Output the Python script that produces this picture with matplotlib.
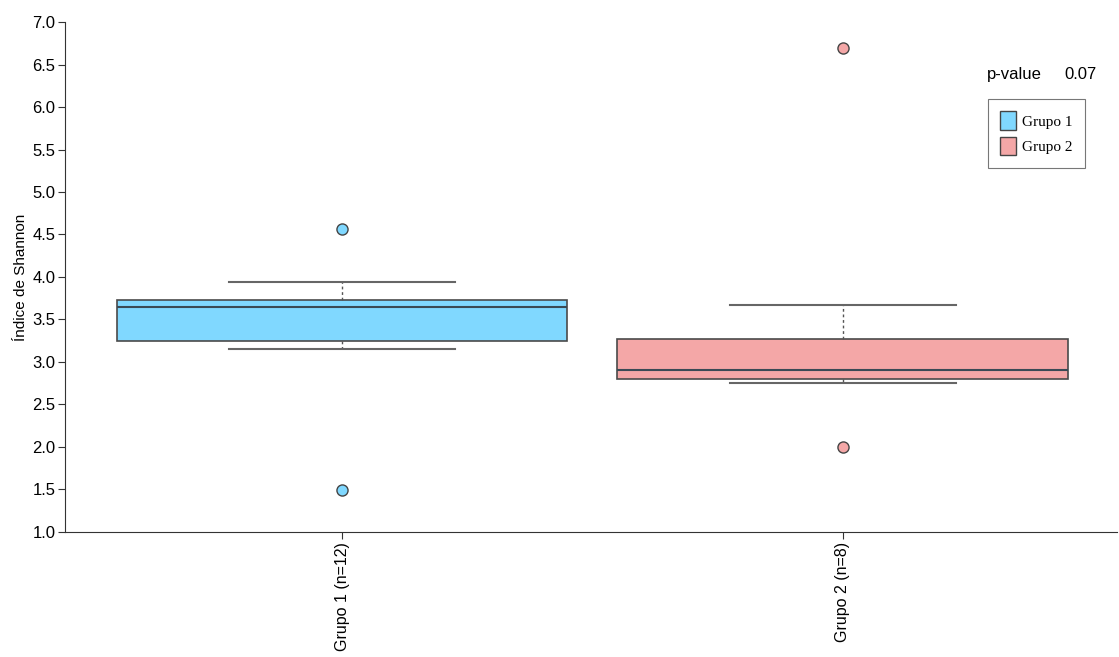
import matplotlib.pyplot as plt
from matplotlib.patches import Patch

# Dados
grupos = ['Grupo 1', 'Grupo 2']
rotulos = ['Grupo 1 (n=12)', 'Grupo 2 (n=8)']
cores = ['#80D8FF', '#F4A7A7']
q1 = [3.25, 2.80]
mediana = [3.65, 2.90]
q3 = [3.73, 3.27]
whis_inf = [3.15, 2.75]
whis_sup = [3.945, 3.667]
outliers = [[4.57, 1.49], [6.70, 2.00]]
p_value = 0.07

plt.rcParams['font.family'] = ['Liberation Sans', 'DejaVu Sans']

fig = plt.figure(figsize=(11.19, 6.57), dpi=100)
ax = fig.add_axes([0.0581, 0.1903, 0.94, 0.7762])

stats = []
for i in range(len(grupos)):
    stats.append({'med': mediana[i], 'q1': q1[i], 'q3': q3[i],
                  'whislo': whis_inf[i], 'whishi': whis_sup[i],
                  'fliers': outliers[i]})

bp = ax.bxp(stats, positions=[1, 2], widths=0.9, patch_artist=True,
            showfliers=True,
            boxprops=dict(edgecolor='#4a4a4a', linewidth=1.2),
            medianprops=dict(color='#3a4a55', linewidth=1.5),
            whiskerprops=dict(color='#555555', linestyle=(0, (2, 2)), linewidth=1),
            capprops=dict(color='#666666', linewidth=1.5),
            capwidths=0.45)

for i, caixa in enumerate(bp['boxes']):
    caixa.set_facecolor(cores[i])
for i, f in enumerate(bp['fliers']):
    f.set_marker('o')
    f.set_markerfacecolor(cores[i])
    f.set_markeredgecolor('#444444')
    f.set_markersize(8)

ax.set_xlim(0.447, 2.547)
ax.set_ylim(1.0, 7.0)
ax.set_yticks([1.0 + 0.5 * k for k in range(13)])
ax.set_yticklabels([f'{1.0 + 0.5 * k:.1f}' for k in range(13)], fontsize=12)
ax.set_xticks([1, 2])
ax.set_xticklabels(rotulos, rotation=90, fontsize=11.5)
ax.set_ylabel('Índice de Shannon', fontsize=11, labelpad=3)

for lado in ['top', 'right']:
    ax.spines[lado].set_visible(False)
for lado in ['left', 'bottom']:
    ax.spines[lado].set_color('#333333')
ax.tick_params(axis='both', direction='out', color='#333333', length=5, pad=2)

fig.text(0.882, 0.886, 'p-value', fontsize=12, va='center')
fig.text(0.9508, 0.886, f'{p_value:.2f}', fontsize=12, va='center')

handles = [Patch(facecolor=cores[i], edgecolor='#444444', label=grupos[i]) for i in range(2)]
leg = fig.legend(handles=handles, loc='upper left', bbox_to_anchor=(0.8829, 0.8493),
                 borderaxespad=0, fancybox=False, edgecolor='#555555',
                 handlelength=1.05, handleheight=1.5, handletextpad=0.4,
                 borderpad=0.8, labelspacing=0.45,
                 prop={'family': 'Liberation Serif', 'size': 11})
leg.get_frame().set_linewidth(0.8)

plt.savefig('out.png', dpi=100)
